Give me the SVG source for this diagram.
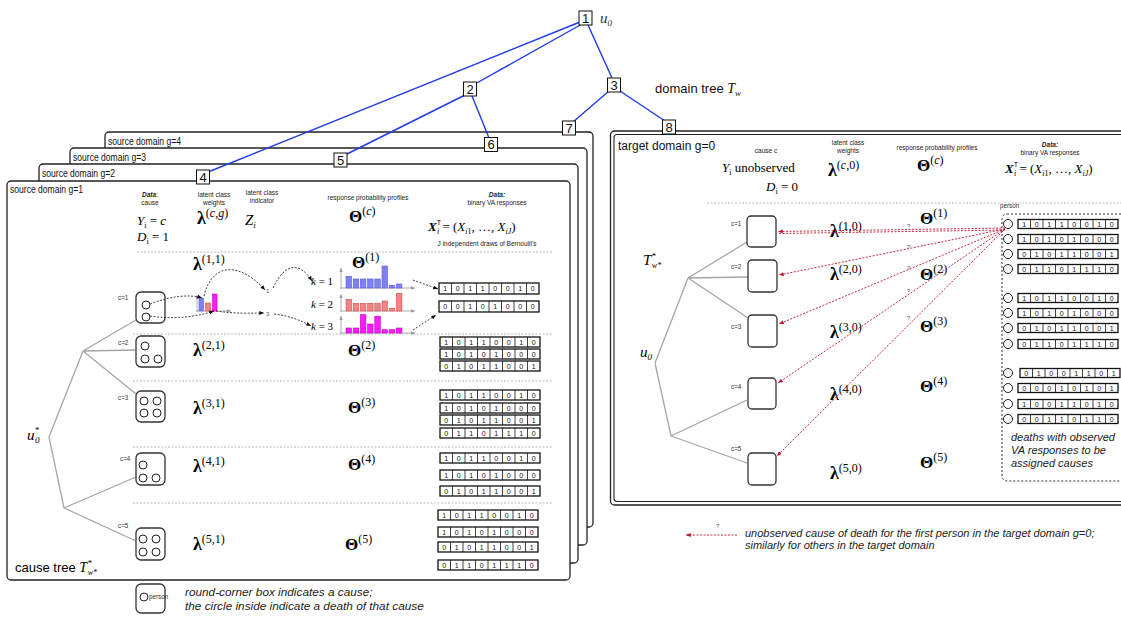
<svg xmlns="http://www.w3.org/2000/svg" width="1121" height="618" viewBox="0 0 1121 618">
<defs>
<style>
.s{font-family:"Liberation Sans",Arial,sans-serif}
.m{font-family:"Liberation Serif","Times New Roman",serif}
.i{font-style:italic}
.b{font-weight:bold}
.panel{fill:#fff;stroke:#222;stroke-width:1.3}
.hd{font-family:"Liberation Sans",Arial,sans-serif;font-size:6.5px;fill:#222;text-anchor:middle}
.cl{font-family:"Liberation Sans",Arial,sans-serif;font-size:6.3px;fill:#333}
.cbox{fill:#fff;stroke:#333;stroke-width:1.3}
.dot{fill:#fff;stroke:#222;stroke-width:1}
.sep{stroke:#aaa;stroke-width:0.8;stroke-dasharray:2 1.5;fill:none}
.tree{stroke:#a6a6a6;stroke-width:1.3;fill:none}
.blue{stroke:#1f3be6;stroke-width:1.4;fill:none}
.nb{fill:#fff;stroke:#111;stroke-width:1}
.nt{font-family:"Liberation Sans",Arial,sans-serif;font-size:13px;text-anchor:middle;fill:#111}
.bits{font-family:"Liberation Sans",Arial,sans-serif;font-size:7px;text-anchor:middle;fill:#111}
.rf{fill:#fff;stroke:#111;stroke-width:1.3}
.rl{stroke:#111;stroke-width:0.8;fill:none}
.da{stroke:#111;stroke-width:0.8;stroke-dasharray:2 1.5;fill:none}
.ra{stroke:#c4122f;stroke-width:0.9;stroke-dasharray:2 1.5;fill:none}
.ax{stroke:#999;stroke-width:0.8;fill:none}
.hb{fill:#8080f2;stroke:#5a5ae0;stroke-width:0.6}
.hr{fill:#f28484;stroke:#d05050;stroke-width:0.6}
.hm{fill:#ff1aff;stroke:#c000c0;stroke-width:0.6}
.pl{font-family:"Liberation Sans",Arial,sans-serif;font-size:10px;fill:#111}
.it{font-family:"Liberation Sans",Arial,sans-serif;font-style:italic;font-size:11px;fill:#222}
.itl{font-family:"Liberation Sans",Arial,sans-serif;font-style:italic;font-size:11.8px;fill:#222}
.q{font-family:"Liberation Sans",Arial,sans-serif;font-size:6px;fill:#555}
</style>
<marker id="ab" viewBox="0 0 6 5" refX="6" refY="2.5" markerWidth="5" markerHeight="4" orient="auto" markerUnits="userSpaceOnUse"><path d="M0,0L6,2.5L0,5z" fill="#111"/></marker>
<marker id="ar" viewBox="0 0 6 5" refX="6" refY="2.5" markerWidth="5" markerHeight="4" orient="auto" markerUnits="userSpaceOnUse"><path d="M0,0L6,2.5L0,5z" fill="#c4122f"/></marker>
<marker id="ag" viewBox="0 0 6 5" refX="6" refY="2.5" markerWidth="4" markerHeight="3.5" orient="auto" markerUnits="userSpaceOnUse"><path d="M0,0L6,2.5L0,5z" fill="#999"/></marker>
<g id="r11"><rect class="rf" width="100" height="11"/><path class="rl" d="M12.5,0v11M25,0v11M37.5,0v11M50,0v11M62.5,0v11M75,0v11M87.5,0v11"/></g>
<g id="r10"><rect class="rf" width="100" height="10"/><path class="rl" d="M12.5,0v10M25,0v10M37.5,0v10M50,0v10M62.5,0v10M75,0v10M87.5,0v10"/></g>
<g id="r9"><rect class="rf" width="100" height="9"/><path class="rl" d="M12.5,0v9M25,0v9M37.5,0v9M50,0v9M62.5,0v9M75,0v9M87.5,0v9"/></g>
</defs>
<rect width="1121" height="618" fill="#fff"/>

<!-- stacked source domain panels -->
<g id="panel-g4"><rect class="panel" x="105" y="132" width="488" height="395" rx="4"/><text class="pl" x="108" y="145" textLength="73" lengthAdjust="spacingAndGlyphs">source domain g=4</text></g>
<g id="panel-g3"><rect class="panel" x="70" y="148" width="517" height="397" rx="4"/><text class="pl" x="73" y="161" textLength="73" lengthAdjust="spacingAndGlyphs">source domain g=3</text></g>
<g id="panel-g2"><rect class="panel" x="39" y="164" width="539" height="399" rx="4"/><text class="pl" x="42" y="177" textLength="73" lengthAdjust="spacingAndGlyphs">source domain g=2</text></g>
<g id="panel-g1"><rect class="panel" x="7" y="181" width="563" height="399" rx="4"/><text class="pl" x="10" y="193" textLength="73" lengthAdjust="spacingAndGlyphs">source domain g=1</text>
<text class="hd" x="150" y="197"><tspan class="b i">Data</tspan>:</text><text class="hd" x="150" y="205">cause</text>
<text class="hd" x="214" y="197">latent class</text><text class="hd" x="214" y="205">weights</text>
<text class="hd" x="262" y="195">latent class</text><text class="hd" x="262" y="203">indicator</text>
<text class="hd" x="368" y="200">response probability profiles</text>
<text class="hd" x="497" y="197"><tspan class="b i">Data:</tspan></text><text class="hd" x="497" y="205">binary VA responses</text>
<text class="m" x="137" y="225" font-size="13"><tspan class="i">Y</tspan><tspan font-size="8" dy="2.5">i</tspan><tspan dy="-2.5"> = </tspan><tspan class="i">c</tspan></text>
<text class="m" x="137" y="241" font-size="13"><tspan class="i">D</tspan><tspan font-size="8" dy="2.5">i</tspan><tspan dy="-2.5"> = 1</tspan></text>
<text class="m" x="197" y="224"><tspan class="b" font-size="18">λ</tspan><tspan font-size="12" dy="-7">(<tspan class="i">c</tspan>,<tspan class="i">g</tspan>)</tspan></text>
<text class="m i" x="245" y="225" font-size="15">Z<tspan font-size="9" dy="3">i</tspan></text>
<text class="m" x="349" y="222"><tspan class="b" font-size="17">Θ</tspan><tspan font-size="12" dy="-7">(<tspan class="i">c</tspan>)</tspan></text>
<text class="m" x="428" y="231" font-size="13"><tspan class="b i">X</tspan><tspan class="s" font-size="7" dy="-6">T</tspan><tspan class="i" font-size="8" dx="-4" dy="9">i</tspan><tspan dy="-3"> = (</tspan><tspan class="i">X</tspan><tspan font-size="8" dy="3"><tspan class="i">i</tspan>1</tspan><tspan dy="-3">, …, </tspan><tspan class="i">X</tspan><tspan class="i" font-size="8" dy="3">iJ</tspan><tspan dy="-3">)</tspan></text>
<text class="hd" x="487" y="246">J independent draws of Bernoulli's</text>
<path class="sep" d="M137,252H552M133,334H552M133,381H552M133,447H552M133,503H552"/>
</g>

<!-- cause tree (source) -->
<g id="cause-tree-source">
<path class="tree" d="M49,437L83,351M49,437L64,508M83,351L136,320M83,351L136,350M83,351L136,394M64,508L136,477M64,508L136,541"/>
<text class="m i" x="27" y="440" font-size="15">u<tspan font-size="9" dy="-7">*</tspan><tspan font-size="9" dx="-4" dy="10">0</tspan></text>
<text class="s" x="15" y="572" font-size="13">cause tree <tspan class="m i" font-size="14">T</tspan><tspan class="m i" font-size="9" dy="-6">*</tspan><tspan class="m i" font-size="8" dx="-4" dy="9">w*</tspan></text>
</g>

<!-- row c=1 -->
<g id="src-c1">
<text class="cl" x="118" y="300">c=1</text>
<rect class="cbox" x="136" y="292" width="29" height="31" rx="5"/>
<circle class="dot" cx="146" cy="305" r="4"/><circle class="dot" cx="146" cy="317" r="4"/>
<text class="m" x="193" y="270"><tspan class="b" font-size="18">λ</tspan><tspan font-size="12" dy="-7">(1,1)</tspan></text>
<text class="m" x="352" y="268"><tspan class="b" font-size="17">Θ</tspan><tspan font-size="12" dy="-7">(1)</tspan></text>
<path class="ax" d="M197,312V295" marker-end="url(#ag)"/><path class="ax" d="M196,311H231" marker-end="url(#ag)"/>
<rect class="hb" x="199" y="298" width="4.5" height="13"/><rect class="hr" x="205.5" y="303" width="5" height="8"/><rect class="hm" x="212.5" y="294" width="4.5" height="17"/>
<text class="q" x="266" y="293">1</text><text class="q" x="266" y="316">3</text>
<text class="m" x="311" y="285" font-size="11"><tspan class="i">k</tspan> = 1</text>
<text class="m" x="311" y="308" font-size="11"><tspan class="i">k</tspan> = 2</text>
<text class="m" x="311" y="330" font-size="11"><tspan class="i">k</tspan> = 3</text>
<path class="ax" d="M341,289V268" marker-end="url(#ag)"/><path class="ax" d="M340,288H415" marker-end="url(#ag)"/>
<path class="ax" d="M341,312V294" marker-end="url(#ag)"/><path class="ax" d="M340,311H415" marker-end="url(#ag)"/>
<path class="ax" d="M341,334V316" marker-end="url(#ag)"/><path class="ax" d="M340,333H415" marker-end="url(#ag)"/>
<rect class="hb" x="346" y="276.3" width="5.5" height="11.7"/><rect class="hb" x="353.2" y="279" width="5.5" height="9"/><rect class="hb" x="360.4" y="279" width="5.5" height="9"/><rect class="hb" x="367.6" y="279" width="5.5" height="9"/><rect class="hb" x="374.8" y="279" width="5.5" height="9"/><rect class="hb" x="382" y="266" width="5.5" height="22"/><rect class="hb" x="389.2" y="285.3" width="5.5" height="2.7"/><rect class="hb" x="396.4" y="284" width="5.5" height="4"/>
<rect class="hr" x="346" y="299.3" width="5.5" height="11.7"/><rect class="hr" x="353.2" y="303.3" width="5.5" height="7.7"/><rect class="hr" x="360.4" y="303.3" width="5.5" height="7.7"/><rect class="hr" x="367.6" y="303.3" width="5.5" height="7.7"/><rect class="hr" x="374.8" y="303.3" width="5.5" height="7.7"/><rect class="hr" x="382" y="301" width="5.5" height="10"/><rect class="hr" x="389.2" y="308.3" width="5.5" height="2.7"/><rect class="hr" x="396.4" y="293.3" width="5.5" height="17.7"/>
<rect class="hm" x="346" y="328" width="5.5" height="5"/><rect class="hm" x="353.2" y="328" width="5.5" height="5"/><rect class="hm" x="360.4" y="314.7" width="5.5" height="18.3"/><rect class="hm" x="367.6" y="324" width="5.5" height="9"/><rect class="hm" x="374.8" y="316.3" width="5.5" height="16.7"/><rect class="hm" x="382" y="329.7" width="5.5" height="3.3"/><rect class="hm" x="389.2" y="329.7" width="5.5" height="3.3"/><rect class="hm" x="396.4" y="328" width="5.5" height="5"/>
<g transform="translate(439,283)"><use href="#r11"/><text class="bits" y="8.3" x="6.25 18.75 31.25 43.75 56.25 68.75 81.25 93.75">10110010</text></g>
<g transform="translate(439,301)"><use href="#r11"/><text class="bits" y="8.3" x="6.25 18.75 31.25 43.75 56.25 68.75 81.25 93.75">00101000</text></g>
</g>

<!-- dashed generative arrows in c=1 -->
<g id="c1-connectors">
<path class="da" d="M150,304C170,296 190,294 202,298" marker-end="url(#ab)"/>
<path class="da" d="M204,296C212,262 240,262 265,290" marker-end="url(#ab)"/>
<path class="da" d="M273,288C285,262 300,262 312,281" marker-end="url(#ab)"/>
<path class="da" d="M150,316C175,320 200,316 214,311" marker-end="url(#ab)"/>
<path class="da" d="M216,311C235,314 250,313 264,313" marker-end="url(#ab)"/>
<path class="da" d="M274,314C290,316 300,320 311,326" marker-end="url(#ab)"/>
<path class="da" d="M413,280L438,289" marker-end="url(#ab)"/>
<path class="da" d="M413,330L436,315" marker-end="url(#ab)"/>
</g>

<!-- row c=2 -->
<g id="src-c2">
<text class="cl" x="118" y="345">c=2</text>
<rect class="cbox" x="136" y="336" width="29" height="31" rx="5"/>
<circle class="dot" cx="145" cy="346" r="4"/><circle class="dot" cx="145" cy="359" r="4"/><circle class="dot" cx="158" cy="359" r="4"/>
<text class="m" x="193" y="356"><tspan class="b" font-size="18">λ</tspan><tspan font-size="12" dy="-7">(2,1)</tspan></text>
<text class="m" x="348" y="356"><tspan class="b" font-size="17">Θ</tspan><tspan font-size="12" dy="-7">(2)</tspan></text>
<g transform="translate(440,337)"><use href="#r10"/><text class="bits" y="7.6" x="6.25 18.75 31.25 43.75 56.25 68.75 81.25 93.75">10110010</text></g>
<g transform="translate(440,349)"><use href="#r10"/><text class="bits" y="7.6" x="6.25 18.75 31.25 43.75 56.25 68.75 81.25 93.75">10101000</text></g>
<g transform="translate(440,361)"><use href="#r10"/><text class="bits" y="7.6" x="6.25 18.75 31.25 43.75 56.25 68.75 81.25 93.75">01011001</text></g>
</g>

<!-- row c=3 -->
<g id="src-c3">
<text class="cl" x="118" y="400">c=3</text>
<rect class="cbox" x="136" y="391" width="29" height="31" rx="5"/>
<circle class="dot" cx="144" cy="401" r="4"/><circle class="dot" cx="157" cy="401" r="4"/><circle class="dot" cx="144" cy="413" r="4"/><circle class="dot" cx="157" cy="413" r="4"/>
<text class="m" x="193" y="414"><tspan class="b" font-size="18">λ</tspan><tspan font-size="12" dy="-7">(3,1)</tspan></text>
<text class="m" x="348" y="413"><tspan class="b" font-size="17">Θ</tspan><tspan font-size="12" dy="-7">(3)</tspan></text>
<g transform="translate(440,390)"><use href="#r10"/><text class="bits" y="7.6" x="6.25 18.75 31.25 43.75 56.25 68.75 81.25 93.75">10110010</text></g>
<g transform="translate(440,403)"><use href="#r10"/><text class="bits" y="7.6" x="6.25 18.75 31.25 43.75 56.25 68.75 81.25 93.75">10101000</text></g>
<g transform="translate(440,415)"><use href="#r10"/><text class="bits" y="7.6" x="6.25 18.75 31.25 43.75 56.25 68.75 81.25 93.75">01011001</text></g>
<g transform="translate(440,428)"><use href="#r10"/><text class="bits" y="7.6" x="6.25 18.75 31.25 43.75 56.25 68.75 81.25 93.75">01101110</text></g>
</g>

<!-- row c=4 -->
<g id="src-c4">
<text class="cl" x="120" y="461">c=4</text>
<rect class="cbox" x="136" y="453" width="29" height="32" rx="5"/>
<circle class="dot" cx="143" cy="465" r="4"/><circle class="dot" cx="143" cy="478" r="4"/><circle class="dot" cx="156" cy="478" r="4"/>
<text class="m" x="193" y="472"><tspan class="b" font-size="18">λ</tspan><tspan font-size="12" dy="-7">(4,1)</tspan></text>
<text class="m" x="348" y="470"><tspan class="b" font-size="17">Θ</tspan><tspan font-size="12" dy="-7">(4)</tspan></text>
<g transform="translate(440,453)"><use href="#r10"/><text class="bits" y="7.6" x="6.25 18.75 31.25 43.75 56.25 68.75 81.25 93.75">10110010</text></g>
<g transform="translate(440,470)"><use href="#r10"/><text class="bits" y="7.6" x="6.25 18.75 31.25 43.75 56.25 68.75 81.25 93.75">10101000</text></g>
<g transform="translate(440,486)"><use href="#r10"/><text class="bits" y="7.6" x="6.25 18.75 31.25 43.75 56.25 68.75 81.25 93.75">01011001</text></g>
</g>

<!-- row c=5 -->
<g id="src-c5">
<text class="cl" x="118" y="528">c=5</text>
<rect class="cbox" x="136" y="528" width="29" height="32" rx="5"/>
<circle class="dot" cx="143" cy="539" r="4"/><circle class="dot" cx="156" cy="539" r="4"/><circle class="dot" cx="143" cy="552" r="4"/><circle class="dot" cx="156" cy="552" r="4"/>
<text class="m" x="193" y="550"><tspan class="b" font-size="18">λ</tspan><tspan font-size="12" dy="-7">(5,1)</tspan></text>
<text class="m" x="345" y="550"><tspan class="b" font-size="17">Θ</tspan><tspan font-size="12" dy="-7">(5)</tspan></text>
<g transform="translate(438,510)"><use href="#r10"/><text class="bits" y="7.6" x="6.25 18.75 31.25 43.75 56.25 68.75 81.25 93.75">10110010</text></g>
<g transform="translate(438,527)"><use href="#r10"/><text class="bits" y="7.6" x="6.25 18.75 31.25 43.75 56.25 68.75 81.25 93.75">10101000</text></g>
<g transform="translate(438,542)"><use href="#r10"/><text class="bits" y="7.6" x="6.25 18.75 31.25 43.75 56.25 68.75 81.25 93.75">01011001</text></g>
<g transform="translate(438,560)"><use href="#r10"/><text class="bits" y="7.6" x="6.25 18.75 31.25 43.75 56.25 68.75 81.25 93.75">01101110</text></g>
</g>

<!-- legend bottom left -->
<g id="legend-cause">
<rect class="cbox" x="136" y="584" width="29" height="29" rx="5"/>
<circle class="dot" cx="144" cy="597" r="4"/>
<text class="cl" x="149" y="599">person</text>
<text class="itl" x="185" y="596">round-corner box indicates a cause;</text>
<text class="itl" x="185" y="610">the circle inside indicate a death of that cause</text>
</g>

<!-- target domain panel -->
<g id="panel-target">
<rect class="panel" x="610.5" y="131" width="530" height="374" rx="4"/>
<rect fill="none" stroke="#222" stroke-width="1.1" x="614" y="134.5" width="520" height="367" rx="3"/>
<text class="s" x="618" y="150" font-size="12" fill="#111">target domain g=0</text>
<text class="hd" x="766" y="153">cause c</text>
<text class="m" x="722" y="172" font-size="13"><tspan class="i">Y</tspan><tspan font-size="8" dy="2.5">i</tspan><tspan dy="-2.5"> unobserved</tspan></text>
<text class="m" x="766" y="191" font-size="13"><tspan class="i">D</tspan><tspan font-size="8" dy="2.5">i</tspan><tspan dy="-2.5"> = 0</tspan></text>
<text class="hd" x="848" y="145">latent class</text><text class="hd" x="848" y="153">weights</text>
<text class="m" x="828" y="176"><tspan class="b" font-size="18">λ</tspan><tspan font-size="12" dy="-7">(<tspan class="i">c</tspan>,0)</tspan></text>
<text class="hd" x="937" y="150">response probability profiles</text>
<text class="m" x="917" y="171"><tspan class="b" font-size="17">Θ</tspan><tspan font-size="12" dy="-7">(<tspan class="i">c</tspan>)</tspan></text>
<text class="hd" x="1050" y="147"><tspan class="b i">Data:</tspan></text><text class="hd" x="1050" y="155">binary VA responses</text>
<text class="m" x="1005" y="173" font-size="13"><tspan class="b i">X</tspan><tspan class="s" font-size="7" dy="-6">T</tspan><tspan class="i" font-size="8" dx="-4" dy="9">i</tspan><tspan dy="-3"> = (</tspan><tspan class="i">X</tspan><tspan font-size="8" dy="3"><tspan class="i">i</tspan>1</tspan><tspan dy="-3">, …, </tspan><tspan class="i">X</tspan><tspan class="i" font-size="8" dy="3">iJ</tspan><tspan dy="-3">)</tspan></text>
<path class="sep" d="M707,203H1121"/>
</g>

<!-- target cause tree -->
<g id="cause-tree-target">
<path class="tree" d="M655,363L688,278M655,363L671,436M688,278L747,242M688,278L748,277M688,278L748,318M671,436L747,400M671,436L747,463"/>
<text class="m i" x="643" y="265" font-size="15">T<tspan font-size="9" dy="-6">*</tspan><tspan font-size="8" dx="-4" dy="9">w*</tspan></text>
<text class="m i" x="640" y="357" font-size="15">u<tspan font-size="9" dy="3">0</tspan></text>
</g>
<g id="tgt-c1"><text class="cl" x="731" y="226">c=1</text><rect class="cbox" x="747" y="216" width="29" height="31" rx="4"/><text class="m" x="830" y="237"><tspan class="b" font-size="18">λ</tspan><tspan font-size="12" dy="-7">(1,0)</tspan></text><text class="m" x="920" y="224"><tspan class="b" font-size="17">Θ</tspan><tspan font-size="12" dy="-7">(1)</tspan></text></g>
<g id="tgt-c2"><text class="cl" x="731" y="269">c=2</text><rect class="cbox" x="748" y="260" width="29" height="32" rx="4"/><text class="m" x="830" y="280"><tspan class="b" font-size="18">λ</tspan><tspan font-size="12" dy="-7">(2,0)</tspan></text><text class="m" x="920" y="280"><tspan class="b" font-size="17">Θ</tspan><tspan font-size="12" dy="-7">(2)</tspan></text></g>
<g id="tgt-c3"><text class="cl" x="731" y="329">c=3</text><rect class="cbox" x="748" y="315" width="29" height="32" rx="4"/><text class="m" x="830" y="338"><tspan class="b" font-size="18">λ</tspan><tspan font-size="12" dy="-7">(3,0)</tspan></text><text class="m" x="920" y="332"><tspan class="b" font-size="17">Θ</tspan><tspan font-size="12" dy="-7">(3)</tspan></text></g>
<g id="tgt-c4"><text class="cl" x="731" y="389">c=4</text><rect class="cbox" x="748" y="378" width="28" height="31" rx="4"/><text class="m" x="830" y="400"><tspan class="b" font-size="18">λ</tspan><tspan font-size="12" dy="-7">(4,0)</tspan></text><text class="m" x="920" y="392"><tspan class="b" font-size="17">Θ</tspan><tspan font-size="12" dy="-7">(4)</tspan></text></g>
<g id="tgt-c5"><text class="cl" x="731" y="451">c=5</text><rect class="cbox" x="748" y="453" width="28" height="32" rx="4"/><text class="m" x="830" y="479"><tspan class="b" font-size="18">λ</tspan><tspan font-size="12" dy="-7">(5,0)</tspan></text><text class="m" x="920" y="468"><tspan class="b" font-size="17">Θ</tspan><tspan font-size="12" dy="-7">(5)</tspan></text></g>

<!-- persons in target domain -->
<g id="persons">
<rect x="1002" y="214" width="130" height="267" rx="5" fill="none" stroke="#111" stroke-width="0.9" stroke-dasharray="2 2"/>
<text class="cl" x="1000" y="208">person</text>
<g class="dots">
<circle class="dot" cx="1008" cy="224" r="4.5"/><circle class="dot" cx="1008" cy="239" r="4.5"/><circle class="dot" cx="1008" cy="254" r="4.5"/><circle class="dot" cx="1008" cy="269" r="4.5"/>
<circle class="dot" cx="1008" cy="298" r="4.5"/><circle class="dot" cx="1008" cy="313" r="4.5"/><circle class="dot" cx="1008" cy="328" r="4.5"/><circle class="dot" cx="1008" cy="344" r="4.5"/>
<circle class="dot" cx="1008" cy="373" r="4.5"/><circle class="dot" cx="1008" cy="388" r="4.5"/><circle class="dot" cx="1008" cy="404" r="4.5"/><circle class="dot" cx="1008" cy="419" r="4.5"/>
</g>
<g transform="translate(1018,219.5)"><use href="#r9"/><text class="bits" y="7" x="6.25 18.75 31.25 43.75 56.25 68.75 81.25 93.75">10110010</text></g>
<g transform="translate(1018,234.5)"><use href="#r9"/><text class="bits" y="7" x="6.25 18.75 31.25 43.75 56.25 68.75 81.25 93.75">10101000</text></g>
<g transform="translate(1018,249.5)"><use href="#r9"/><text class="bits" y="7" x="6.25 18.75 31.25 43.75 56.25 68.75 81.25 93.75">01011001</text></g>
<g transform="translate(1018,264.5)"><use href="#r9"/><text class="bits" y="7" x="6.25 18.75 31.25 43.75 56.25 68.75 81.25 93.75">01101110</text></g>
<g transform="translate(1018,293.5)"><use href="#r9"/><text class="bits" y="7" x="6.25 18.75 31.25 43.75 56.25 68.75 81.25 93.75">10110010</text></g>
<g transform="translate(1018,308.5)"><use href="#r9"/><text class="bits" y="7" x="6.25 18.75 31.25 43.75 56.25 68.75 81.25 93.75">10101000</text></g>
<g transform="translate(1018,323.5)"><use href="#r9"/><text class="bits" y="7" x="6.25 18.75 31.25 43.75 56.25 68.75 81.25 93.75">01011001</text></g>
<g transform="translate(1018,339.5)"><use href="#r9"/><text class="bits" y="7" x="6.25 18.75 31.25 43.75 56.25 68.75 81.25 93.75">01101110</text></g>
<g transform="translate(1020,368.5)"><use href="#r9"/><text class="bits" y="7" x="6.25 18.75 31.25 43.75 56.25 68.75 81.25 93.75">01001101</text></g>
<g transform="translate(1018,383.5)"><use href="#r9"/><text class="bits" y="7" x="6.25 18.75 31.25 43.75 56.25 68.75 81.25 93.75">00010101</text></g>
<g transform="translate(1018,399.5)"><use href="#r9"/><text class="bits" y="7" x="6.25 18.75 31.25 43.75 56.25 68.75 81.25 93.75">10011010</text></g>
<g transform="translate(1018,414.5)"><use href="#r9"/><text class="bits" y="7" x="6.25 18.75 31.25 43.75 56.25 68.75 81.25 93.75">00110110</text></g>
<text class="it" x="1011" y="441">deaths with observed</text>
<text class="it" x="1011" y="454">VA responses to be</text>
<text class="it" x="1011" y="467">assigned causes</text>
</g>

<!-- red unobserved-cause connectors -->
<g id="red-connectors">
<path class="ra" d="M1005,228L778,231.5" marker-end="url(#ar)"/>
<path class="ra" d="M1005,230L778,233.5"/>
<path class="ra" d="M1005,229L779,275" marker-end="url(#ar)"/>
<path class="ra" d="M1005,229L779,324" marker-end="url(#ar)"/>
<path class="ra" d="M1005,229L778,383" marker-end="url(#ar)"/>
<path class="ra" d="M1005,229L777,456" marker-end="url(#ar)"/>
<text class="q" x="907" y="228">?</text><text class="q" x="907" y="249">?</text><text class="q" x="907" y="270">?</text><text class="q" x="907" y="293">?</text><text class="q" x="907" y="320">?</text>
</g>

<!-- legend bottom right -->
<g id="legend-red">
<text class="q" x="716" y="528">?</text>
<path class="ra" d="M737,535L686,535" marker-end="url(#ar)"/>
<text class="it" x="745" y="537">unobserved cause of death for the first person in the target domain g=0;</text>
<text class="it" x="745" y="549">similarly for others in the target domain</text>
</g>

<!-- domain tree -->
<g id="domain-tree-connectors">
<path class="blue" d="M580,22L208,172M582,24L475,84M588,25L612,78M465,95L345,155M472,96L489,138M609,91L573,122M620,91L665,121"/>
</g>
<g id="dnode-1"><rect class="nb" x="579" y="11" width="13" height="14"/><text class="nt" x="585.5" y="22.5">1</text><text class="m i" x="600" y="23" font-size="15" fill="#333">u<tspan font-size="9" dy="3">0</tspan></text></g>
<g id="dnode-2"><rect class="nb" x="463.5" y="82" width="13" height="14"/><text class="nt" x="470" y="93.5">2</text></g>
<g id="dnode-3"><rect class="nb" x="607.5" y="78" width="13" height="14"/><text class="nt" x="614" y="89.5">3</text></g>
<g id="dnode-4"><rect class="nb" x="196.5" y="170" width="13" height="14"/><text class="nt" x="203" y="181.5">4</text></g>
<g id="dnode-5"><rect class="nb" x="334" y="153" width="13" height="14"/><text class="nt" x="340.5" y="164.5">5</text></g>
<g id="dnode-6"><rect class="nb" x="484.5" y="137.5" width="13" height="14"/><text class="nt" x="491" y="149">6</text></g>
<g id="dnode-7"><rect class="nb" x="562.5" y="121" width="13" height="14"/><text class="nt" x="569" y="132.5">7</text></g>
<g id="dnode-8"><rect class="nb" x="662.5" y="120" width="13" height="14"/><text class="nt" x="669" y="131.5">8</text></g>
<text class="s" x="655" y="93" font-size="13" fill="#111">domain tree <tspan class="m i" font-size="14">T</tspan><tspan class="m i" font-size="9" dy="3">w</tspan></text>
</svg>
